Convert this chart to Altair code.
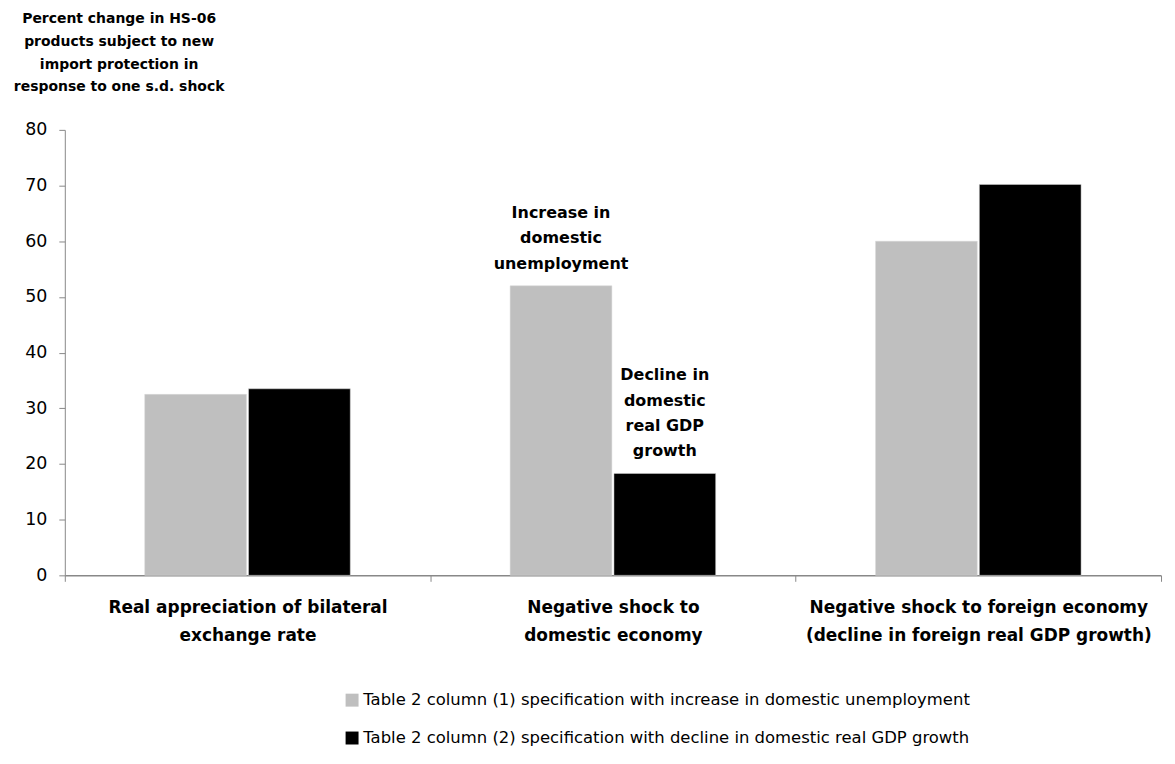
import altair as alt
import pandas as pd

# ---- data ----
categories = [
    "Real appreciation of bilateral|exchange rate",
    "Negative shock to|domestic economy",
    "Negative shock to foreign economy|(decline in foreign real GDP growth)",
]
series = [
    "Table 2 column (1) specification with increase in domestic unemployment",
    "Table 2 column (2) specification with decline in domestic real GDP growth",
]
unemployment_values = [32.5, 52.0, 60.0]
gdp_values = [33.5, 18.3, 70.2]
series_colors = ["#BFBFBF", "#000000"]

annot_category = [categories[1], categories[1]]
annot_series = [series[0], series[1]]
annot_values = [52.0, 18.3]
annot_lines = [["Increase in", "domestic", "unemployment"],
               ["Decline in", "domestic", "real GDP", "growth"]]

y_title = [
    "Percent change in HS-06",
    "products subject to new",
    "import protection in",
    "response to one s.d. shock",
]

FONT = "DejaVu Sans"

rows = []
for c, u, g in zip(categories, unemployment_values, gdp_values):
    rows.append({"category": c, "series": series[0], "value": u})
    rows.append({"category": c, "series": series[1], "value": g})
df = pd.DataFrame(rows)

ann_rows = []
for c, s, v, lines in zip(annot_category, annot_series, annot_values, annot_lines):
    n = len(lines)
    for i, t in enumerate(lines):
        ann_rows.append({"category": c, "series": s, "value": v, "label": t, "k": n - 1 - i})
ann = pd.DataFrame(ann_rows)

x_enc = alt.X(
    "category:N", sort=categories,
    scale=alt.Scale(paddingInner=0, paddingOuter=0),
    axis=alt.Axis(
        title=None, labelAngle=0, labelExpr="split(datum.label, '|')",
        labelFont=FONT, labelFontSize=17, labelFontWeight="bold", labelColor="#000",
        labelLineHeight=28, labelPadding=18, labelBaseline="top", labelLimit=500,
        tickBand="extent", tickSize=6, tickColor="#888", domainColor="#888",
        domainWidth=1.5,
    ),
)
xoff_enc = alt.XOffset("series:N", sort=series,
                       scale=alt.Scale(paddingInner=0.02, paddingOuter=0.77))
y_enc = alt.Y(
    "value:Q",
    scale=alt.Scale(domain=[0, 80]),
    axis=alt.Axis(
        values=list(range(0, 81, 10)), grid=False,
        labelFont=FONT, labelFontSize=17.5, labelColor="#000", labelPadding=12,
        tickSize=6, tickColor="#888", domainColor="#888",
        title=y_title, titleAngle=0, titleAlign="center", titleBaseline="top",
        titleX=54, titleY=-119, titleFont=FONT, titleFontSize=14,
        titleFontWeight="bold", titleColor="#000", titleLineHeight=23,
    ),
)

bars = alt.Chart(df).mark_bar(stroke="#d9d9d9", strokeWidth=0.5).encode(
    x=x_enc, xOffset=xoff_enc, y=y_enc,
    color=alt.Color(
        "series:N", sort=series,
        scale=alt.Scale(domain=series, range=series_colors),
        legend=alt.Legend(
            title=None, orient="none", legendX=280, legendY=564, direction="vertical",
            symbolType="square", symbolSize=169, symbolStrokeWidth=0,
            labelFont=FONT, labelFontSize=16.5, labelColor="#000", labelOffset=3,
            rowPadding=21, labelLimit=900,
        ),
    ),
)

layers = [bars]
for k in range(4):
    layers.append(
        alt.Chart(ann).transform_filter(alt.datum.k == k).mark_text(
            baseline="alphabetic", align="center", dy=-17 - k * 25.5,
            font=FONT, fontSize=16, fontWeight="bold", color="#000",
        ).encode(
            x=alt.X("category:N", sort=categories),
            xOffset=alt.XOffset("series:N", sort=series),
            y=alt.Y("value:Q"),
            text="label:N",
        )
    )

chart = alt.layer(*layers).properties(
    width=1100, height=447,
    autosize=alt.AutoSizeParams(type="none"),
    padding={"left": 57, "top": 121, "right": 6, "bottom": 180},
).configure(background="white").configure_view(stroke=None)

chart.save("out.html", embed_options={"renderer": "svg", "actions": False})
